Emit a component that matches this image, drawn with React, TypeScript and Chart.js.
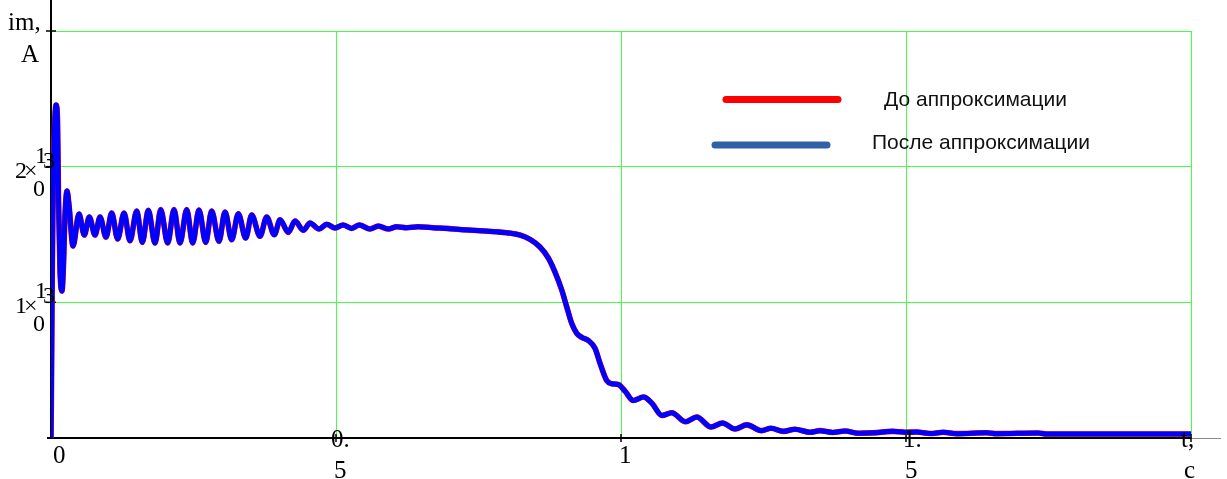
import React, { useEffect, useRef } from "react";
import { Chart, registerables } from "chart.js";

Chart.register(...registerables);

// time, s
const T: number[] = [
  0, 0.0009, 0.0018, 0.0035, 0.0061, 0.0088, 0.0114, 0.0132, 0.0158, 0.0193,
  0.0219, 0.0246, 0.0281, 0.0316, 0.0386, 0.0491, 0.0584, 0.0672, 0.0772,
  0.086, 0.0965, 0.1065, 0.117, 0.1281, 0.1386, 0.1504, 0.1602, 0.1707, 0.1825,
  0.1925, 0.2047, 0.2158, 0.2263, 0.2381, 0.2486, 0.2596, 0.2714, 0.2819,
  0.2947, 0.3053, 0.317, 0.3286, 0.3416, 0.3521, 0.3667, 0.3784, 0.3918,
  0.4018, 0.4163, 0.4281, 0.4426, 0.4544, 0.4702, 0.4837, 0.4982, 0.5123,
  0.5275, 0.5409, 0.5596, 0.5742, 0.5918, 0.6065, 0.624, 0.6444, 0.6702,
  0.6942, 0.7175, 0.7526, 0.7819, 0.7995, 0.8228, 0.8404, 0.8579, 0.8725,
  0.8842, 0.896, 0.9047, 0.9135, 0.9223, 0.9311, 0.9426, 0.9544, 0.9632,
  0.9749, 0.9837, 0.9953, 1.007, 1.0216, 1.0395, 1.0539, 1.0719, 1.0889,
  1.1132, 1.1328, 1.1579, 1.1781, 1.2, 1.2205, 1.2468, 1.2632, 1.2851, 1.3053,
  1.3316, 1.3491, 1.3711, 1.393, 1.4163, 1.4426, 1.4763, 1.4982, 1.5188,
  1.5421, 1.5654, 1.5889, 1.6416, 1.6591, 1.7316, 1.7468, 2.0,
];

// current before approximation, A
const I_BEFORE: number[] = [
  0, 427, 1017, 1754, 2270, 2454, 2344, 1754, 1238, 1083,
  1275, 1643, 1820, 1717, 1415, 1651, 1496, 1629, 1496,
  1629, 1481, 1658, 1467, 1658, 1454, 1673, 1442, 1678, 1437,
  1683, 1437, 1683, 1437, 1683, 1437, 1680, 1442, 1673,
  1450, 1666, 1461, 1653, 1474, 1643, 1487, 1629, 1498,
  1609, 1516, 1599, 1531, 1584, 1540, 1575, 1548, 1570,
  1545, 1570, 1540, 1562, 1540, 1557, 1550, 1557, 1550,
  1545, 1537, 1528, 1520, 1513, 1496, 1464, 1408, 1327,
  1223, 1091, 968, 845, 772, 742, 719, 661, 551,
  424, 400, 394, 346, 276, 302, 258, 166, 186,
  120, 155, 81, 111, 66, 97, 54, 72, 49, 65,
  42, 54, 41, 52, 35, 38, 49, 42, 44,
  33, 42, 32, 39, 32, 37, 29, 29,
];

// current after approximation, A (visually identical to the curve before)
const I_AFTER: number[] = I_BEFORE.slice();

const X_TICKS: number[] = [0, 0.5, 1, 1.5, 2];
const Y_TICKS: number[] = [0, 1000, 2000, 3000];
const LEGEND_LABELS: string[] = ["До аппроксимации", "После аппроксимации"];

const GREEN = "#44ff44";

export default function App() {
  const ref = useRef<HTMLCanvasElement | null>(null);

  useEffect(() => {
    const canvas = ref.current;
    if (!canvas) return;

    const overlay = {
      id: "mathcadOverlay",
      beforeDatasetsDraw(chart: any) {
        const ctx = chart.ctx;
        const xs = chart.scales.x;
        const ys = chart.scales.y;
        const x0 = xs.getPixelForValue(0);
        const y0 = ys.getPixelForValue(0);
        const xEnd = xs.getPixelForValue(2);
        ctx.save();
        ctx.strokeStyle = "#000";
        ctx.lineWidth = 2;
        ctx.beginPath();
        ctx.moveTo(x0 - 4, y0);
        ctx.lineTo(xEnd, y0);
        ctx.stroke();
        ctx.strokeStyle = "#888";
        ctx.lineWidth = 1;
        ctx.beginPath();
        ctx.moveTo(xEnd, Math.round(y0) + 0.5);
        ctx.lineTo(xEnd + 30, Math.round(y0) + 0.5);
        ctx.stroke();
        ctx.strokeStyle = "#000";
        ctx.lineWidth = 2;
        ctx.beginPath();
        ctx.moveTo(x0, 0);
        ctx.lineTo(x0, y0);
        ctx.stroke();
        ctx.lineWidth = 1.5;
        for (const v of Y_TICKS.slice(1)) {
          const p = ys.getPixelForValue(v);
          ctx.beginPath();
          ctx.moveTo(x0 - 5, p);
          ctx.lineTo(x0 + 5, p);
          ctx.stroke();
        }
        for (const v of X_TICKS.slice(1)) {
          const p = xs.getPixelForValue(v);
          ctx.beginPath();
          ctx.moveTo(p, y0 - 4);
          ctx.lineTo(p, y0 + 4);
          ctx.stroke();
        }
        ctx.restore();
      },
      afterDraw(chart: any) {
        const ctx = chart.ctx;
        const xs = chart.scales.x;
        const ys = chart.scales.y;
        ctx.save();
        ctx.fillStyle = "#000";
        ctx.textBaseline = "alphabetic";
        ctx.textAlign = "left";
        const serif = "'Liberation Serif', 'Times New Roman', serif";
        ctx.font = `25px ${serif}`;
        const x0 = xs.getPixelForValue(0);
        const x05 = xs.getPixelForValue(0.5);
        const x1 = xs.getPixelForValue(1);
        const x15 = xs.getPixelForValue(1.5);
        const x2 = xs.getPixelForValue(2);
        const yb = ys.getPixelForValue(0);
        // x tick labels (Mathcad-style wrapped)
        ctx.fillText(String(X_TICKS[0]), x0 + 2, yb + 25);
        ctx.fillText("0.", x05 - 5, yb + 9);
        ctx.fillText("5", x05 - 2, yb + 40);
        ctx.fillText(String(X_TICKS[2]), x1 - 2, yb + 25);
        ctx.fillText("1.", x15 - 3, yb + 9);
        ctx.fillText("5", x15 - 1, yb + 40);
        ctx.fillText("t,", x2 - 10, yb + 9);
        ctx.fillText("c", x2 - 7, yb + 40);
        // y axis label
        const yTop = ys.getPixelForValue(3000);
        ctx.fillText("im,", 8, yTop - 1);
        ctx.fillText("A", 21, yTop + 31);
        // y tick labels (wrapped 2×10³, 1×10³)
        ctx.font = `24px ${serif}`;
        for (const v of [2000, 1000]) {
          const p = ys.getPixelForValue(v);
          const lead = String(v / 1000);
          ctx.fillText("1", 35, p - 4);
          ctx.fillText("3", 43, p + 1);
          ctx.fillText(lead, 15, p + 11);
          ctx.fillText("×", 24, p + 11);
          ctx.fillText("0", 33, p + 29);
        }
        // legend
        const sans = "'Liberation Sans', Arial, sans-serif";
        ctx.lineCap = "round";
        ctx.lineWidth = 7;
        ctx.strokeStyle = "#ff0000";
        ctx.beginPath();
        ctx.moveTo(726, 99.5);
        ctx.lineTo(838, 99.5);
        ctx.stroke();
        ctx.strokeStyle = "#3061a8";
        ctx.beginPath();
        ctx.moveTo(715, 145);
        ctx.lineTo(827, 145);
        ctx.stroke();
        ctx.font = `21px ${sans}`;
        ctx.fillStyle = "#111";
        ctx.textBaseline = "middle";
        ctx.fillText(LEGEND_LABELS[0], 884, 100);
        ctx.fillText(LEGEND_LABELS[1], 872, 143);
        ctx.restore();
      },
    };

    const chart = new Chart(canvas, {
      type: "line",
      data: {
        datasets: [
          {
            label: LEGEND_LABELS[1],
            data: T.map((t, k) => ({ x: t, y: I_AFTER[k] })),
            borderColor: "#0000ff",
            borderWidth: 5,
            pointRadius: 0,
            cubicInterpolationMode: "monotone",
            fill: false,
            order: 0,
          },
          {
            label: LEGEND_LABELS[0],
            data: T.map((t, k) => ({ x: t, y: I_BEFORE[k] })),
            borderColor: "#ff0000",
            borderWidth: 5.6,
            pointRadius: 0,
            cubicInterpolationMode: "monotone",
            fill: false,
            order: 1,
          },
        ],
      },
      options: {
        responsive: false,
        animation: false,
        devicePixelRatio: 1,
        layout: { padding: { left: 51, right: 36, top: 31, bottom: 41 } },
        plugins: { legend: { display: false }, tooltip: { enabled: false } },
        scales: {
          x: {
            type: "linear",
            min: 0,
            max: 2,
            afterBuildTicks: (s: any) => {
              s.ticks = X_TICKS.map((v) => ({ value: v }));
            },
            afterFit: (s: any) => {
              s.height = 0;
            },
            ticks: { display: false },
            border: { display: false },
            grid: {
              drawTicks: false,
              lineWidth: 1,
              color: (c: any) => (c.tick && c.tick.value === 0 ? "rgba(0,0,0,0)" : GREEN),
            },
          },
          y: {
            type: "linear",
            min: 0,
            max: 3000,
            afterBuildTicks: (s: any) => {
              s.ticks = Y_TICKS.map((v) => ({ value: v }));
            },
            afterFit: (s: any) => {
              s.width = 0;
            },
            ticks: { display: false },
            border: { display: false },
            grid: {
              drawTicks: false,
              lineWidth: 1,
              color: (c: any) => (c.tick && c.tick.value === 0 ? "rgba(0,0,0,0)" : GREEN),
            },
          },
        },
      },
      plugins: [overlay],
    } as any);

    return () => chart.destroy();
  }, []);

  return (
    <div style={{ position: "absolute", left: 0, top: 0, width: 1227, height: 479, background: "#fff" }}>
      <canvas ref={ref} width={1227} height={479} style={{ display: "block" }} />
    </div>
  );
}
